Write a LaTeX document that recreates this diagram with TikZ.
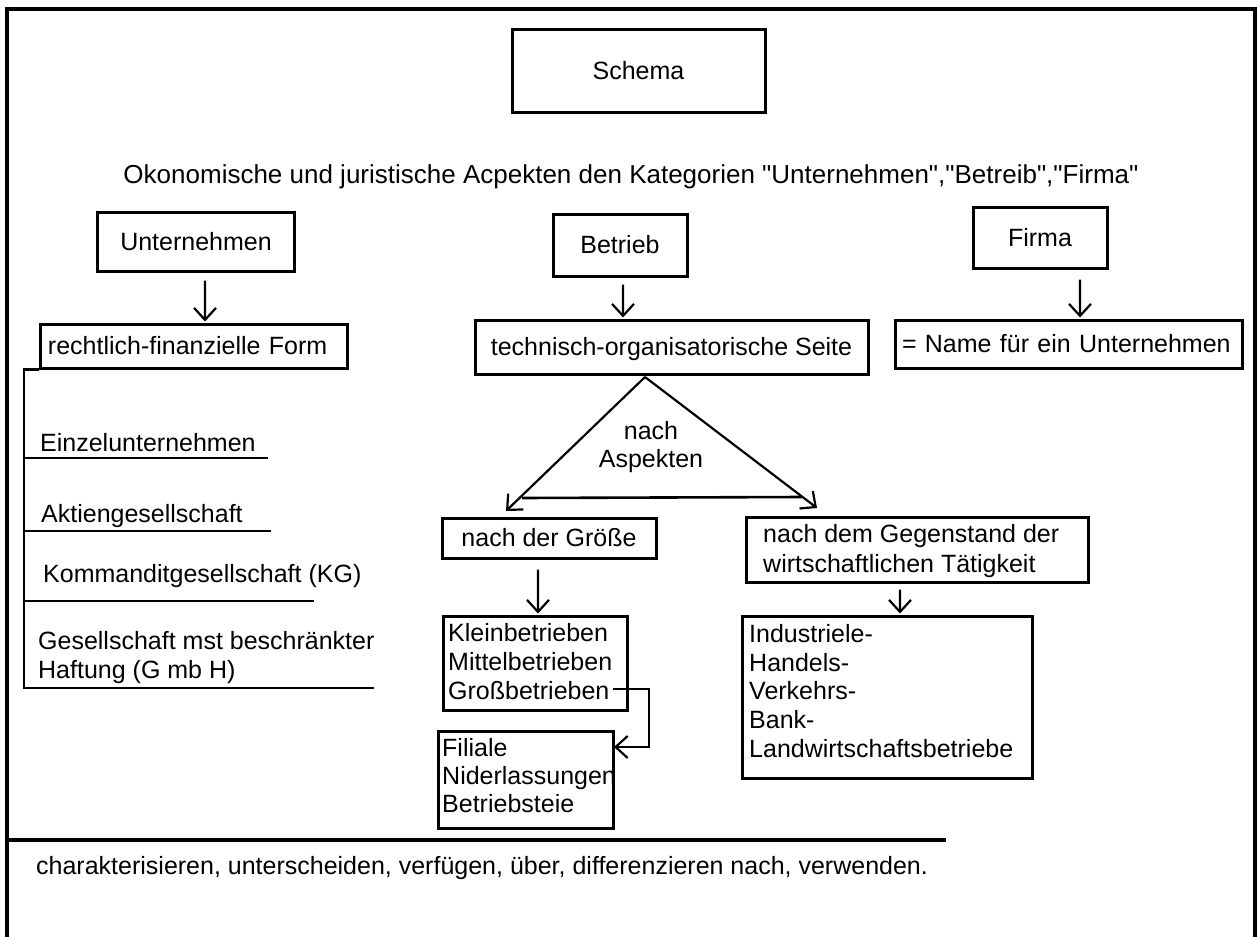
\documentclass[tikz,border=0pt]{standalone}
\usepackage{fontspec}
\setmainfont{Liberation Sans}
\usetikzlibrary{arrows.meta}
\newcommand\diafs{\fontsize{25bp}{29bp}\selectfont}
\tikzset{
  frameline/.style={line width=3.5bp},
  box/.style={draw, line width=3bp, inner sep=0pt, font=\diafs, text height=17.8bp, text depth=0bp},
  lbox/.style={box, align=left},
  emptybox/.style={draw, line width=3bp, inner sep=0pt},
  txt/.style={inner sep=0pt, font=\diafs, align=left, anchor=north west},
  conn/.style={line width=2.2bp, -{Straight Barb[length=12bp,width=22bp,line width=2.2bp]}},
  plainline/.style={line width=2.6bp},
}
\begin{document}
\begin{tikzpicture}[x=1bp,y=-1bp]
\useasboundingbox (0,0) rectangle (1259,937);
\fill[white] (0,0) rectangle (1259,937);
% frame
\draw[frameline] (7,937) -- (7,9) -- (1255,9) -- (1255,937);
% title
\node[box, minimum width=253bp, minimum height=83bp] (schema) at (638.5,70.5) {Schema};
\node[inner sep=0pt, font=\fontsize{26bp}{30bp}\selectfont, anchor=north] (heading) at (631,164)
  {Okonomische und juristische Acpekten den Kategorien \textquotedbl Unternehmen\textquotedbl,\textquotedbl Betreib\textquotedbl,\textquotedbl Firma\textquotedbl};
% top boxes
\node[box, minimum width=196bp, minimum height=59bp] (unt) at (196,241.5) {Unternehmen};
\node[box, minimum width=134bp, minimum height=62bp] (betr) at (620,245) {Betrieb};
\node[box, minimum width=134bp, minimum height=61bp] (firma) at (1040,237.5) {Firma};
% second row
\node[lbox, inner xsep=7bp, text width=292bp, minimum height=44bp] (recht) at (194,346) {rechtlich-finanzielle Form};
\node[box, minimum width=393bp, minimum height=54bp] (tech) at (671.5,347) {technisch-organisatorische Seite};
\node[lbox, inner xsep=7bp, text width=333bp, minimum height=48bp] (name) at (1068.5,344) {= Name f\"ur ein Unternehmen};
% arrows top
\draw[conn] ([xshift=9bp,yshift=-8bp]unt.south) -- ([xshift=11bp,yshift=1bp]recht.north);
\draw[conn] ([xshift=3bp,yshift=-7bp]betr.south) -- ([xshift=-48.5bp,yshift=1bp]tech.north);
\draw[conn] ([xshift=40bp,yshift=-10bp]firma.south) -- ([xshift=11.5bp,yshift=1bp]name.north);
% bracket list
\draw[plainline] (recht.south west) -| (24,688) -- (374,688);
\draw[plainline] (24,458) -- (268,458);
\draw[plainline] (24,531) -- (271,531);
\draw[plainline] (24,601) -- (314,601);
\node[txt] (einzel) at (40,433) {Einzelunternehmen};
\node[txt] (aktien) at (41,504) {Aktiengesellschaft};
\node[txt] (kommandit) at (43,564) {Kommanditgesellschaft (KG)};
\node[txt] (gmbh) at (38,631) {Gesellschaft mst beschr\"ankter\\Haftung (G mb H)};
% triangle
\coordinate (apex) at (645,377);
\coordinate (lbase) at (522,498);
\coordinate (rbase) at (802,497);
\coordinate (ltip) at (506,511);
\coordinate (rtip) at (817,508);
\draw[conn] (apex) -- (ltip);
\draw[conn] (apex) -- (rtip);
\draw[plainline] (lbase) -- (rbase);
\node[inner sep=0pt, font=\fontsize{25bp}{28bp}\selectfont, align=center, anchor=north] (aspekt) at (651,421) {nach\\Aspekten};
% third row
\node[box, minimum width=214bp, minimum height=40bp] (groesse) at (549,538) {nach der Gr\"o\ss e};
\node[emptybox, minimum width=342bp, minimum height=65bp] (gegen) at (917,549.5) {};
\node[txt, font=\fontsize{25bp}{30bp}\selectfont] (gegentxt) at (763,524) {nach dem Gegenstand der\\wirtschaftlichen T\"atigkeit};
% fourth row
\node[emptybox, minimum width=184bp, minimum height=94bp] (klein) at (535,663) {};
\node[txt] (kleintxt) at (448,623) {Kleinbetrieben\\Mittelbetrieben\\Gro\ss betrieben};
\node[emptybox, minimum width=290bp, minimum height=162bp] (ind) at (887,697) {};
\node[txt, font=\fontsize{25bp}{28.75bp}\selectfont] (indtxt) at (749,624) {Industriele-\\Handels-\\Verkehrs-\\Bank-\\Landwirtschaftsbetriebe};
\node[emptybox, minimum width=175bp, minimum height=97bp] (filiale) at (525.5,779.5) {};
\node[txt, font=\fontsize{25bp}{28bp}\selectfont] (filtxt) at (442,738) {Filiale\\Niderlassungen\\Betriebsteie};
\draw[conn] ([xshift=-11bp,yshift=-10bp]groesse.south) -- ([xshift=3bp,yshift=1bp]klein.north);
\draw[conn] ([xshift=-17bp,yshift=-6bp]gegen.south) -- ([xshift=13bp,yshift=1bp]ind.north);
\coordinate (gbend) at (613,689);
\coordinate (filin) at (614,747);
\draw[conn] (gbend) -- (649,689) |- (filin);
% bottom
\draw[frameline] (8,840) -- (946,840);
\node[txt] (verbs) at (36,856) {charakterisieren, unterscheiden, verf\"ugen, \"uber, differenzieren nach, verwenden.};
\end{tikzpicture}
\end{document}
